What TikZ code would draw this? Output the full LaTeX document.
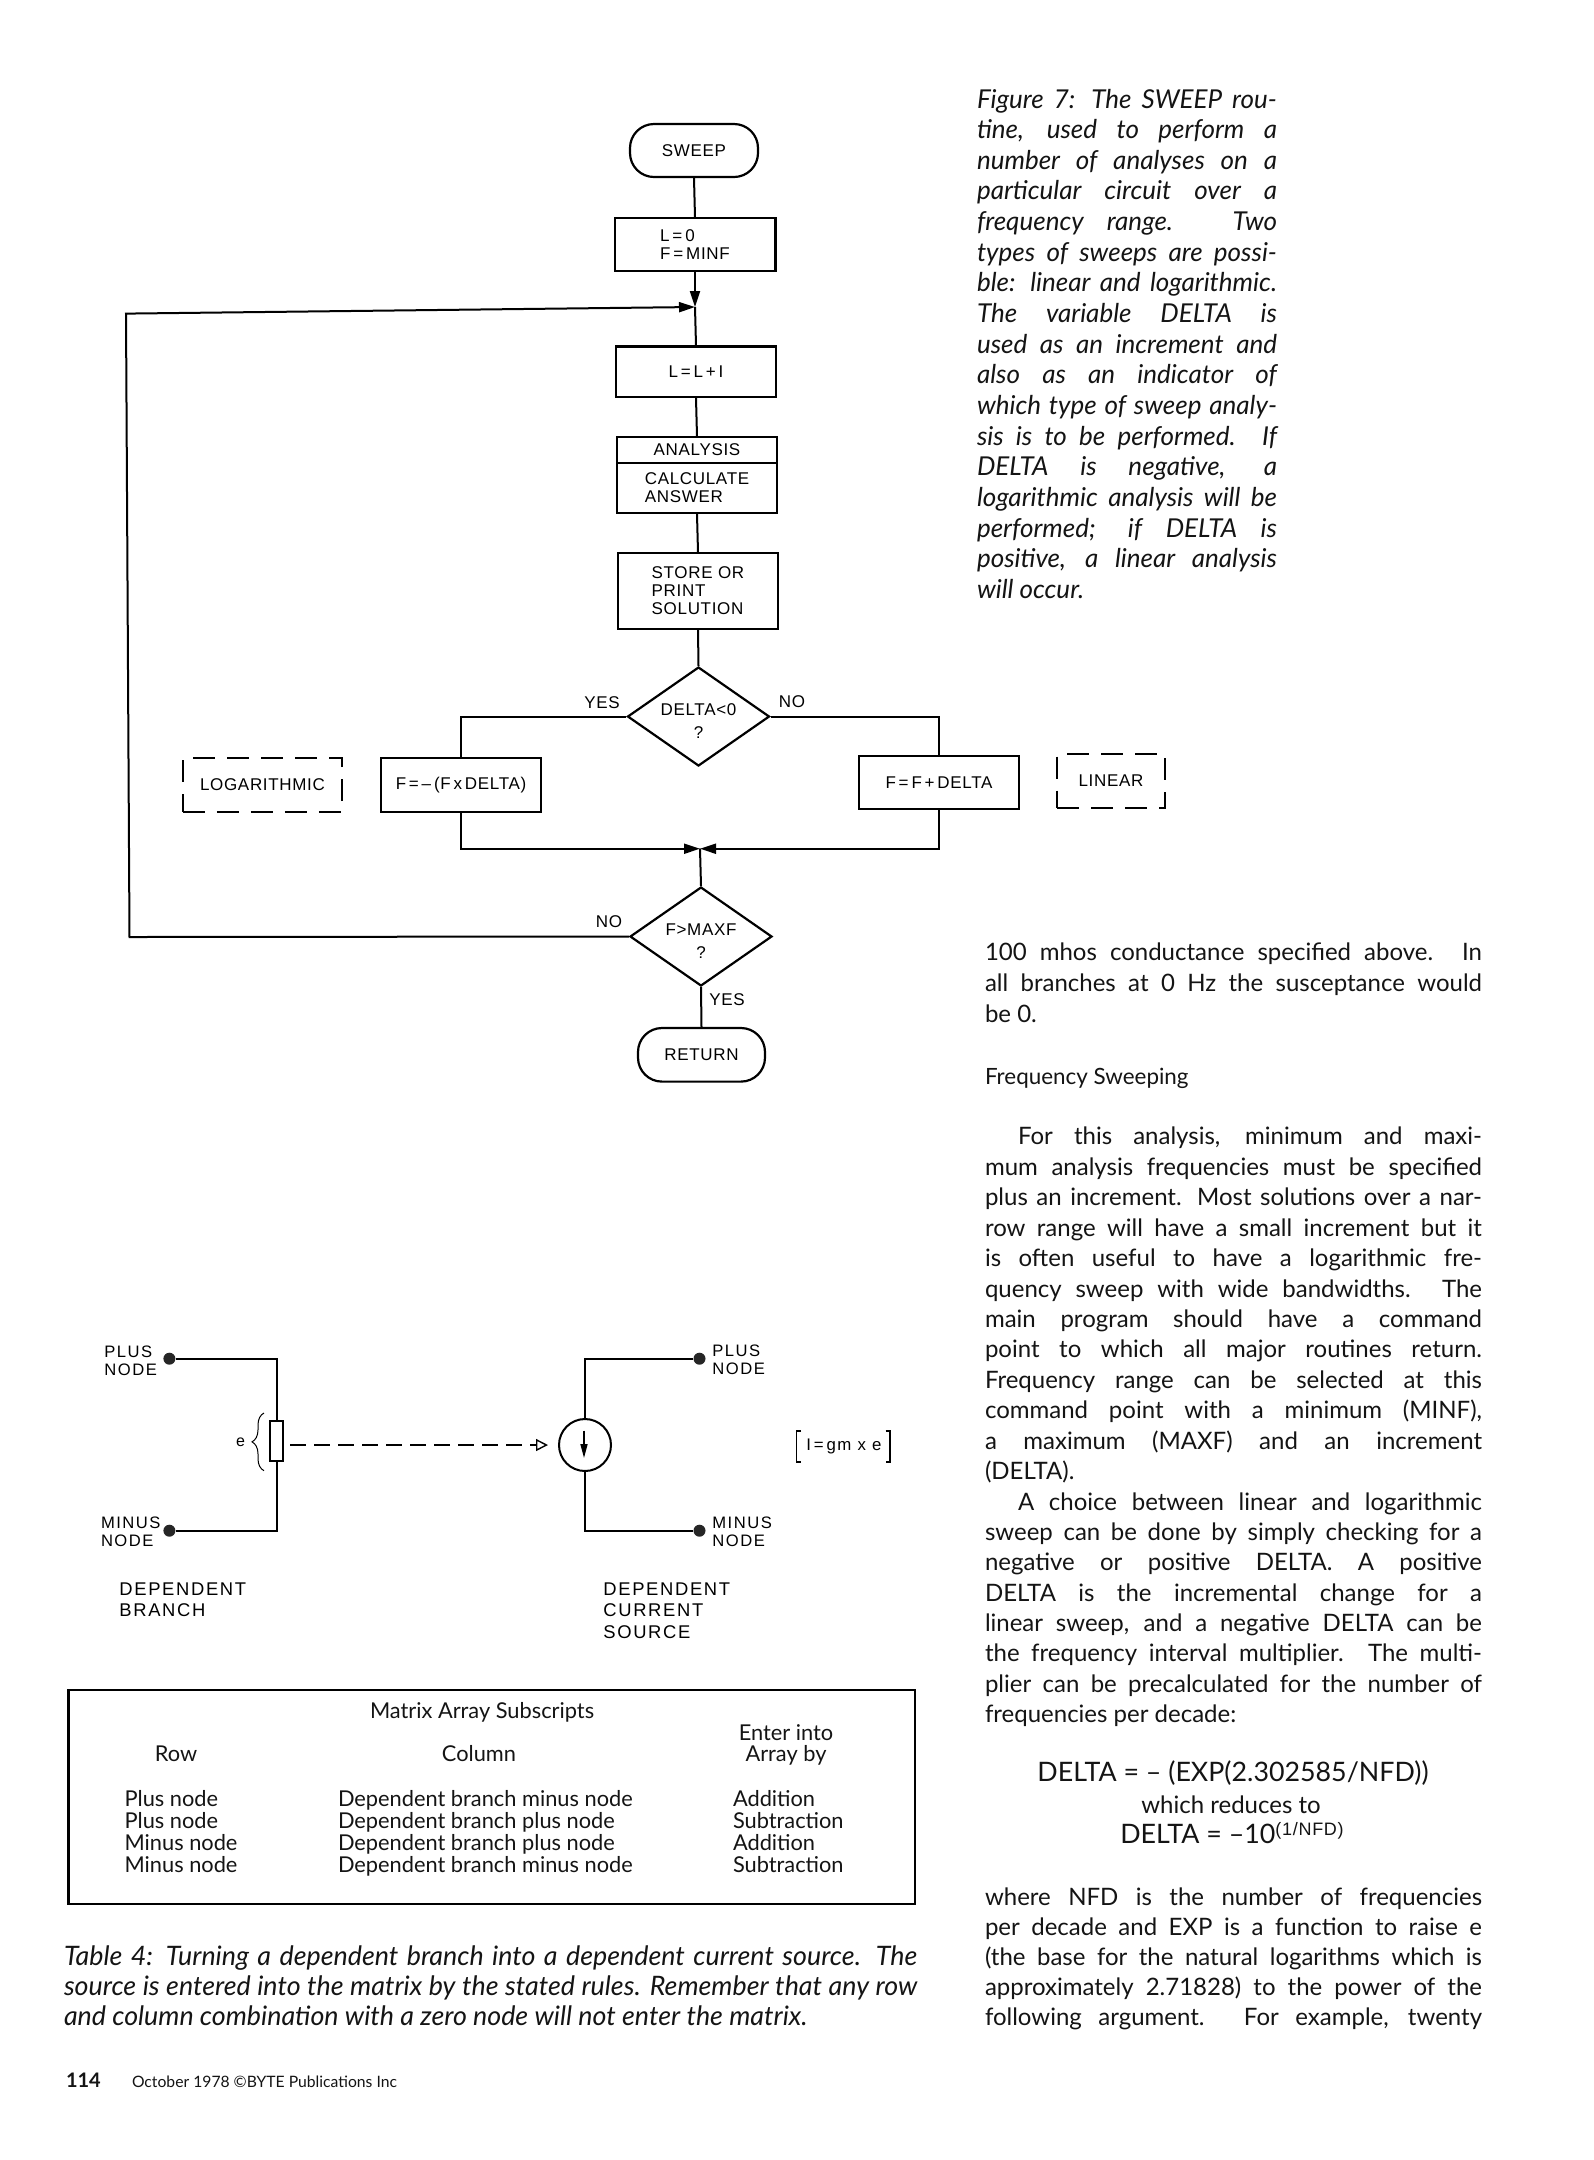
\documentclass[tikz,border=0pt]{standalone}
\usepackage{fontspec}
\setmainfont{Lato}
\newfontfamily\flab[LetterSpace=4]{Liberation Sans}
\newfontfamily\clab[LetterSpace=9]{Liberation Sans}
\usetikzlibrary{shapes.geometric,arrows.meta,decorations.pathreplacing}
\newcounter{tn}
% text helpers: x, y given in reference pixels
\newcommand{\jl}[4]{\stepcounter{tn}\node[txt] (t\arabic{tn}) at (#1,#2) {\makebox[#3pt][s]{#4}};}
\newcommand{\pl}[3]{\stepcounter{tn}\node[txt] (t\arabic{tn}) at (#1,#2) {#3};}
\newcommand{\jc}[4]{\stepcounter{tn}\node[txt,font=\fontsize{13.4}{15}\selectfont\itshape] (t\arabic{tn}) at (#1,#2) {\makebox[#3pt][s]{#4}};}
\newcommand{\pc}[3]{\stepcounter{tn}\node[txt,font=\fontsize{13.4}{15}\selectfont\itshape] (t\arabic{tn}) at (#1,#2) {#3};}
\newcommand{\cl}[2]{\stepcounter{tn}\node[txt,font=\fontsize{13}{15}\selectfont\itshape] (t\arabic{tn}) at (977,108+30.65*#1) {\makebox[150pt][s]{#2}};}
\newcommand{\cle}[2]{\stepcounter{tn}\node[txt,font=\fontsize{13}{15}\selectfont\itshape] (t\arabic{tn}) at (977,108+30.65*#1) {#2};}
\newcommand{\ctr}[3]{\stepcounter{tn}\node[txt,anchor=base] (t\arabic{tn}) at (#1,#2) {#3};}
\newcommand{\tb}[3]{\stepcounter{tn}\node[txt,font=\fontsize{10.9}{12}\selectfont] (t\arabic{tn}) at (#1,#2) {#3};}
\tikzset{
  txt/.style={anchor=base west,inner sep=0pt,outer sep=0pt,font=\fontsize{12}{14}\selectfont,text=black!92},
  flabel/.style={inner sep=0pt,font=\flab\fontsize{8.5}{9}\selectfont,align=center},
  clabel/.style={inner sep=0pt,anchor=west,font=\clab\fontsize{8.3}{9.2}\selectfont,align=left},
  dlabel/.style={inner sep=0pt,anchor=north west,font=\clab\fontsize{9.2}{10.8}\selectfont,align=left},
  procbox/.style={draw,line width=1.1pt,rectangle,inner sep=0pt,font=\flab\fontsize{8.5}{9}\selectfont,align=center},
  termbox/.style={procbox,rounded corners=12pt},
  decbox/.style={draw,line width=1.1pt,shape=diamond,aspect=1.449,inner sep=0pt,font=\flab\fontsize{8.5}{11.5}\selectfont,align=center,minimum width=71pt,minimum height=49.5pt},
  dashbox/.style={procbox,dash pattern=on 11pt off 6pt},
  conn/.style={line width=1pt},
  tip/.style={-{Triangle[length=8pt,width=5pt]}},
  dot/.style={circle,fill=black!85,inner sep=0pt,minimum size=6pt},
}
\begin{document}
\begin{tikzpicture}[x=0.5pt,y=-0.5pt]
\useasboundingbox (0,0) rectangle (1594,2160);
\fill[white] (0,0) rectangle (1594,2160);

% --- flowchart ---
\node[termbox,minimum width=64pt,minimum height=26.5pt] (sweep) at (694,150.5) {SWEEP};
\node[procbox,align=left,minimum width=80.4pt,minimum height=26.3pt] (init) at (695,244.5) {L\,=\,0\\F\,=\,MINF};
\coordinate (join) at (695,307);
\node[procbox,minimum width=80pt,minimum height=25.3pt] (inc) at (696,371.7) {L\,=\,L\,+\,I};
\node[procbox,minimum width=80.2pt,minimum height=12.7pt] (ana) at (697,450) {ANALYSIS};
\node[procbox,align=left,minimum width=80.2pt,minimum height=25pt] (calc) at (697,488) {CALCULATE\\ANSWER};
\node[procbox,align=left,minimum width=79.7pt,minimum height=37.8pt] (store) at (698,591) {STORE OR\\PRINT\\SOLUTION};
\node[decbox] (d1) at (698.5,716.5) {\rule{0pt}{10pt}DELTA<0\\?};
\node[procbox,minimum width=80pt,minimum height=26.8pt] (fneg) at (461,785) {F\,=\,–\,(F\,x\,DELTA)};
\node[procbox,minimum width=80pt,minimum height=26.5pt] (fpos) at (939,782.5) {F\,=\,F\,+\,DELTA};
\node[dashbox,minimum width=79.6pt,minimum height=26.8pt] (logb) at (262.5,785) {LOGARITHMIC};
\node[dashbox,minimum width=54pt,minimum height=26.8pt] (linb) at (1111,781) {LINEAR};
\coordinate (merge) at (700,848.7);
\node[decbox] (d2) at (701,936.5) {\rule{0pt}{10pt}F>MAXF\\?};
\node[termbox,minimum width=63.5pt,minimum height=26.8pt] (ret) at (701.5,1054.8) {RETURN};
\coordinate (cb) at (129.5,937);
\coordinate (ct) at (126,313.6);

\draw[conn] (sweep.south) -- (init.north);
\draw[conn,tip] (init.south) -- (join);
\draw[conn] (join) -- (inc.north);
\draw[conn] (inc.south) -- (ana.north);
\draw[conn] (calc.south) -- (store.north);
\draw[conn] (store.south) -- (d1.north);
\draw[conn] (d1.west) -| (fneg.north);
\draw[conn] (d1.east) -| (fpos.north);
\draw[conn,tip] (fneg.south) |- (merge);
\draw[conn,tip] (fpos.south) |- (merge);
\draw[conn] (d2.north) -- (merge);
\draw[conn] (d2.south) -- (ret.north);
\draw[conn,tip] (d2.west) -- (cb) -- (ct) -- (join);

\node[flabel] (yes1) at (602,703) {YES};
\node[flabel] (no1) at (792,702) {NO};
\node[flabel] (no2) at (609,922) {NO};
\node[flabel] (yes2) at (727,1000) {YES};

% --- circuit ---
\node[dot] (lp) at (169.4,1358.7) {};
\node[dot] (lm) at (169.4,1530.7) {};
\node[draw,line width=.9pt,rectangle,inner sep=0pt,minimum width=6.8pt,minimum height=20pt] (res) at (276.5,1441) {};
\node[draw,line width=1pt,circle,inner sep=0pt,minimum size=26pt] (src) at (585,1445) {};
\node[dot] (rp) at (699.5,1358.7) {};
\node[dot] (rm) at (699.5,1530.7) {};
\coordinate (a1) at (584,1430.7);
\coordinate (a2) at (584,1458);
\coordinate (b1) at (264,1470.7);
\coordinate (b2) at (264,1413);
\draw[conn] (lp) -| (res.north);
\draw[conn] (lm) -| (res.south);
\draw[conn] (rp) -| (src.north);
\draw[conn] (rm) -| (src.south);
\draw[line width=.8pt,-{Triangle[length=7pt,width=3.5pt]}] (a1) -- (a2);
\draw[line width=.5pt,decorate,decoration={brace,amplitude=6pt}] (b1) -- (b2);
\node[inner sep=0pt,font=\clab\fontsize{8}{9}\selectfont] (elab) at (240.5,1442) {e};
\draw[line width=1pt,dash pattern=on 8pt off 4pt,-{Triangle[open,fill=white,length=6pt,width=6pt,line width=.7pt]},shorten <=3pt,shorten >=5pt] (res.east |- src.west) -- (src.west);

\node[clabel] (tp1) at (104,1360.5) {PLUS\\NODE};
\node[clabel] (tm1) at (100.6,1531.5) {MINUS\\NODE};
\node[clabel] (tp2) at (712,1360) {PLUS\\NODE};
\node[clabel] (tm2) at (712,1531.5) {MINUS\\NODE};
\node[dlabel] (depb) at (119,1582) {DEPENDENT\\BRANCH};
\node[dlabel] (deps) at (603,1582) {DEPENDENT\\CURRENT\\SOURCE};
\node[inner sep=0pt,font=\clab\fontsize{8.4}{9}\selectfont] (form) at (844,1446) {I\,=\,gm x e};
\coordinate (f1) at (801,1431); \coordinate (f2) at (796.5,1431); \coordinate (f3) at (796.5,1461.7); \coordinate (f4) at (801,1461.7);
\coordinate (g1) at (885.5,1431); \coordinate (g2) at (890,1431); \coordinate (g3) at (890,1461.7); \coordinate (g4) at (885.5,1461.7);
\draw[line width=.8pt] (f1) -- (f2) -- (f3) -- (f4);
\draw[line width=.8pt] (g1) -- (g2) -- (g3) -- (g4);

% --- table ---
\node[draw,line width=1.2pt,rectangle,inner sep=0pt,minimum width=423.3pt,minimum height=107pt] (tbl) at (491.7,1797) {};
\tb{370}{1718}{Matrix Array Subscripts}
\ctr{786}{1740}{\fontsize{10.9}{12}\selectfont Enter into}
\ctr{786}{1761}{\fontsize{10.9}{12}\selectfont Array by}
\ctr{176}{1761}{\fontsize{10.9}{12}\selectfont Row}
\ctr{479}{1761}{\fontsize{10.9}{12}\selectfont Column}
\tb{124.6}{1806}{Plus node}
\tb{124.6}{1828}{Plus node}
\tb{124.6}{1850}{Minus node}
\tb{124.6}{1872}{Minus node}
\tb{338}{1806}{Dependent branch minus node}
\tb{338}{1828}{Dependent branch plus node}
\tb{338}{1850}{Dependent branch plus node}
\tb{338}{1872}{Dependent branch minus node}
\tb{733}{1806}{Addition}
\tb{733}{1828}{Subtraction}
\tb{733}{1850}{Addition}
\tb{733}{1872}{Subtraction}

% --- table caption ---
\jc{64}{1965}{426.5}{Table 4: Turning a dependent branch into a dependent current source. The}
\jc{64}{1995}{426.5}{source is entered into the matrix by the stated rules. Remember that any row}
\pc{64}{2025}{and column combination with a zero node will not enter the matrix.}

% --- footer ---
\stepcounter{tn}\node[txt,font=\fontsize{10}{12}\selectfont\bfseries] (t\arabic{tn}) at (66,2087) {114};
\stepcounter{tn}\node[txt,font=\fontsize{7.85}{9}\selectfont] (t\arabic{tn}) at (132,2087) {October 1978 ©BYTE Publications Inc};

% --- figure caption ---
\cl{0}{Figure 7: The SWEEP rou-}
\cl{1}{tine, used to perform a}
\cl{2}{number of analyses on a}
\cl{3}{particular circuit over a}
\cl{4}{frequency range. Two}
\cl{5}{types of sweeps are possi-}
\cl{6}{ble: linear and logarithmic.}
\cl{7}{The variable DELTA is}
\cl{8}{used as an increment and}
\cl{9}{also as an indicator of}
\cl{10}{which type of sweep analy-}
\cl{11}{sis is to be performed. If}
\cl{12}{DELTA is negative, a}
\cl{13}{logarithmic analysis will be}
\cl{14}{performed; if DELTA is}
\cl{15}{positive, a linear analysis}
\cle{16}{will occur.}

% --- body text ---
\jl{985}{960}{248.5}{100 mhos conductance specified above. In}
\jl{985}{991.5}{248.5}{all branches at 0 Hz the susceptance would}
\pl{985}{1022}{be 0.}
\stepcounter{tn}\node[txt,font=\fontsize{11.2}{13}\selectfont] (t\arabic{tn}) at (985,1084) {Frequency Sweeping};
\jl{1018}{1144.5}{232}{For this analysis, minimum and maxi-}
\jl{985}{1175}{248.5}{mum analysis frequencies must be specified}
\jl{985}{1205.5}{248.5}{plus an increment. Most solutions over a nar-}
\jl{985}{1236}{248.5}{row range will have a small increment but it}
\jl{985}{1266.5}{248.5}{is often useful to have a logarithmic fre-}
\jl{985}{1297}{248.5}{quency sweep with wide bandwidths. The}
\jl{985}{1327}{248.5}{main program should have a command}
\jl{985}{1357.5}{248.5}{point to which all major routines return.}
\jl{985}{1388}{248.5}{Frequency range can be selected at this}
\jl{985}{1418.5}{248.5}{command point with a minimum (MINF),}
\jl{985}{1449}{248.5}{a maximum (MAXF) and an increment}
\pl{985}{1479.5}{(DELTA).}
\jl{1018}{1510}{232}{A choice between linear and logarithmic}
\jl{985}{1540}{248.5}{sweep can be done by simply checking for a}
\jl{985}{1570.5}{248.5}{negative or positive DELTA. A positive}
\jl{985}{1601}{248.5}{DELTA is the incremental change for a}
\jl{985}{1631}{248.5}{linear sweep, and a negative DELTA can be}
\jl{985}{1661.5}{248.5}{the frequency interval multiplier. The multi-}
\jl{985}{1692}{248.5}{plier can be precalculated for the number of}
\pl{985}{1722}{frequencies per decade:}
\ctr{1233}{1781}{\fontsize{13.4}{15}\selectfont DELTA = -- (EXP(2.302585/NFD))}
\ctr{1231}{1813}{which reduces to}
\ctr{1232}{1843}{\fontsize{13.4}{15}\selectfont DELTA = --10\raisebox{4pt}{\flab\fontsize{9}{10}\selectfont(1/NFD)}}
\jl{985}{1905}{248.5}{where NFD is the number of frequencies}
\jl{985}{1935}{248.5}{per decade and EXP is a function to raise e}
\jl{985}{1965}{248.5}{(the base for the natural logarithms which is}
\jl{985}{1995}{248.5}{approximately 2.71828) to the power of the}
\jl{985}{2025}{248.5}{following argument. For example, twenty}
\end{tikzpicture}
\end{document}
